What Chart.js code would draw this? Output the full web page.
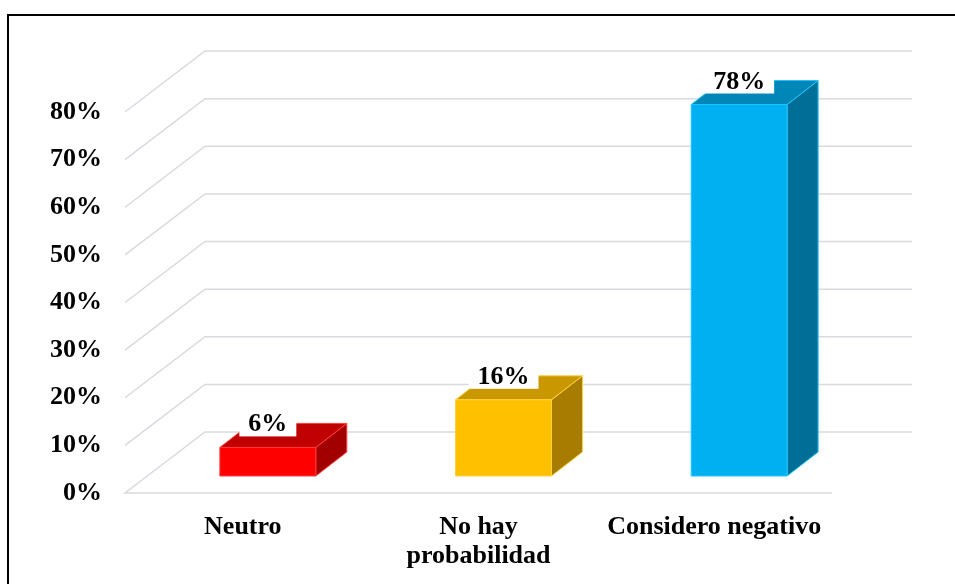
<!DOCTYPE html>
<html>
<head>
<meta charset="utf-8">
<script src="https://cdn.jsdelivr.net/npm/chart.js@4.4.0/dist/chart.umd.min.js"></script>
<style>
  html, body { margin: 0; padding: 0; background: #fff; }
  #wrap { width: 955px; height: 584px; position: relative; }
</style>
</head>
<body>
<div id="wrap"><canvas id="chart" width="955" height="584"></canvas></div>
<script>
  // Chart data
  const categories = ["Neutro", ["No hay", "probabilidad"], "Considero negativo"];
  const values = [0.06, 0.16, 0.78];
  const valueLabels = ["6%", "16%", "78%"];
  const yTicks = [0, 0.1, 0.2, 0.3, 0.4, 0.5, 0.6, 0.7, 0.8];

  // Face colours (front / top / side)
  const frontColors = ["#FF0000", "#FFC000", "#00B0F0"];
  const topColors = ["#C00000", "#C99800", "#0087B8"];
  const sideColors = ["#A20000", "#A67D00", "#006F98"];
  const edgeColors = ["#FF3A3A", "#FFD040", "#20C4FF"];

  const FONT = "'Liberation Serif', 'Times New Roman', serif";

  // 3D geometry (pixels): wall depth and bar placement inside it
  const WALL_DX = 80, WALL_DY = -61;
  const BAR_FX = 25, BAR_FY = -17;
  const BAR_DX = 31, BAR_DY = -24;

  const threeD = {
    id: "threeD",
    beforeDraw(chart) {
      const ctx = chart.ctx;
      ctx.save();
      ctx.fillStyle = "#fff";
      ctx.fillRect(0, 0, chart.width, chart.height);
      // outer frame (top + left)
      ctx.strokeStyle = "#000";
      ctx.lineWidth = 2;
      ctx.beginPath();
      ctx.moveTo(8, chart.height);
      ctx.lineTo(8, 15);
      ctx.lineTo(chart.width, 15);
      ctx.stroke();
      ctx.restore();
    },
    beforeDatasetsDraw(chart) {
      const ctx = chart.ctx;
      const y = chart.scales.y;
      const area = chart.chartArea;
      ctx.save();
      ctx.strokeStyle = "#D9DAE0";
      ctx.lineWidth = 1.5;
      yTicks.forEach(function (v) {
        const py = y.getPixelForValue(v);
        ctx.beginPath();
        if (v === 0) {
          ctx.moveTo(area.right, py);
          ctx.lineTo(area.left, py);
        } else {
          ctx.moveTo(area.left, py);
        }
        ctx.lineTo(area.left + WALL_DX, py + WALL_DY);
        ctx.lineTo(area.right + WALL_DX, py + WALL_DY);
        ctx.stroke();
      });
      ctx.restore();
    },
    afterDatasetsDraw(chart) {
      const ctx = chart.ctx;
      const meta = chart.getDatasetMeta(0);
      ctx.save();
      meta.data.forEach(function (bar, i) {
        const p = bar.getProps(["x", "y", "base", "width"], true);
        const l = p.x - p.width / 2 + BAR_FX;
        const r = p.x + p.width / 2 + BAR_FX;
        const t = p.y + BAR_FY;
        const b = p.base + BAR_FY;

        ctx.lineWidth = 1;
        ctx.strokeStyle = edgeColors[i];
        ctx.lineJoin = "round";

        // side face
        ctx.fillStyle = sideColors[i];
        ctx.beginPath();
        ctx.moveTo(r, t);
        ctx.lineTo(r + BAR_DX, t + BAR_DY);
        ctx.lineTo(r + BAR_DX, b + BAR_DY);
        ctx.lineTo(r, b);
        ctx.closePath();
        ctx.fill();
        ctx.stroke();

        // top face
        ctx.fillStyle = topColors[i];
        ctx.beginPath();
        ctx.moveTo(l, t);
        ctx.lineTo(l + BAR_DX, t + BAR_DY);
        ctx.lineTo(r + BAR_DX, t + BAR_DY);
        ctx.lineTo(r, t);
        ctx.closePath();
        ctx.fill();
        ctx.stroke();

        // front face
        ctx.fillStyle = frontColors[i];
        ctx.fillRect(l, t, r - l, b - t);
        ctx.strokeRect(l, t, r - l, b - t);

        // value label with white box
        ctx.font = "bold 26px " + FONT;
        const txt = valueLabels[i];
        const tw = ctx.measureText(txt).width;
        const cx = (l + r) / 2;
        const boxB = t - 11;
        const boxW = tw + 18;
        const boxH = 28;
        ctx.fillStyle = "#fff";
        ctx.fillRect(cx - boxW / 2, boxB - boxH, boxW, boxH);
        ctx.fillStyle = "#000";
        ctx.textAlign = "center";
        ctx.textBaseline = "alphabetic";
        ctx.fillText(txt, cx, boxB - 5);
      });
      ctx.restore();
    }
  };

  new Chart(document.getElementById("chart"), {
    type: "bar",
    data: {
      labels: categories,
      datasets: [
        {
          data: values,
          backgroundColor: "rgba(0,0,0,0)",
          borderWidth: 0,
          categoryPercentage: 1,
          barPercentage: 0.407,
        },
      ],
    },
    options: {
      responsive: false,
      animation: false,
      devicePixelRatio: 1,
      layout: {
        padding: { left: 0, right: 123, top: 112, bottom: 0 },
      },
      plugins: {
        legend: { display: false },
        tooltip: { enabled: false },
      },
      scales: {
        x: {
          grid: { display: false },
          border: { display: false },
          ticks: {
            color: "#000",
            font: { family: FONT, size: 26, weight: "bold", lineHeight: 1.1 },
            padding: 12,
            maxRotation: 0,
            autoSkip: false,
          },
          afterFit: function (scale) {
            scale.height = 91;
          },
        },
        y: {
          min: 0,
          max: 0.8,
          grid: { display: false },
          border: { display: false },
          ticks: {
            stepSize: 0.1,
            color: "#000",
            font: { family: FONT, size: 26, weight: "bold" },
            padding: 15,
            callback: function (v) {
              return Math.round(v * 100) + "%";
            },
          },
          afterFit: function (scale) {
            scale.width = 125;
          },
        },
      },
    },
    plugins: [threeD],
  });
</script>
</body>
</html>
